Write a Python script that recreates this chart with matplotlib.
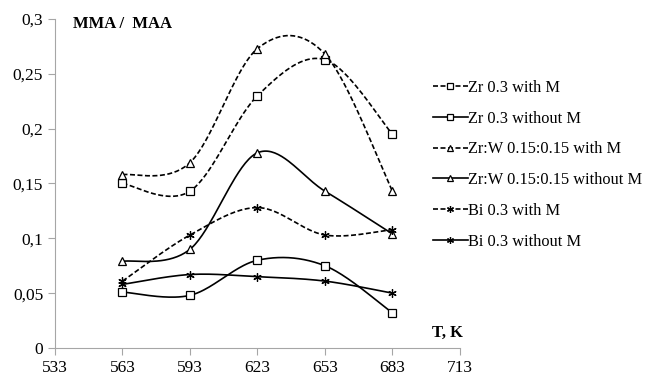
import numpy as np
import matplotlib.pyplot as plt

# temperatures, K
temps = [563, 593, 623, 653, 683]

zr_with = [0.150, 0.143, 0.230, 0.263, 0.195]
zr_without = [0.051, 0.048, 0.080, 0.075, 0.032]
zrw_with = [0.158, 0.169, 0.273, 0.268, 0.143]
zrw_without = [0.079, 0.090, 0.178, 0.143, 0.104]
bi_with = [0.061, 0.103, 0.128, 0.103, 0.108]
bi_without = [0.058, 0.067, 0.065, 0.061, 0.050]

labels = ["Zr 0.3 with M", "Zr 0.3 without M", "Zr:W 0.15:0.15 with M",
          "Zr:W 0.15:0.15 without M", "Bi 0.3 with M", "Bi 0.3 without M"]
series = [zr_with, zr_without, zrw_with, zrw_without, bi_with, bi_without]
markers = ["s", "s", "^", "^", (6, 2, 0), (6, 2, 0)]
styles = ["--", "-", "--", "-", "--", "-"]

x_ticks = [533, 563, 593, 623, 653, 683, 713]
y_ticks = [0, 0.05, 0.1, 0.15, 0.2, 0.25, 0.3]


def smooth(x, y, n=40):
    # excel-like smoothed line (bezier through the points)
    x = np.array(x, float)
    y = np.array(y, float)
    px = np.concatenate([[x[0]], x, [x[-1]]])
    py = np.concatenate([[y[0]], y, [y[-1]]])
    xs, ys = [], []
    t = np.linspace(0, 1, n)
    for i in range(1, len(px) - 2):
        p0 = np.array([px[i], py[i]])
        p3 = np.array([px[i + 1], py[i + 1]])
        p1 = p0 + (np.array([px[i + 1], py[i + 1]]) - np.array([px[i - 1], py[i - 1]])) / 6
        p2 = p3 - (np.array([px[i + 2], py[i + 2]]) - np.array([px[i], py[i]])) / 6
        b = ((1 - t) ** 3)[:, None] * p0 + (3 * (1 - t) ** 2 * t)[:, None] * p1 \
            + (3 * (1 - t) * t ** 2)[:, None] * p2 + (t ** 3)[:, None] * p3
        xs.extend(b[:, 0])
        ys.extend(b[:, 1])
    return xs, ys


plt.rcParams['font.family'] = ['Liberation Serif', 'DejaVu Serif']

fig = plt.figure(figsize=(6.45, 3.76), dpi=100)
ax = fig.add_axes([0.0853, 0.0745, 0.6277, 0.875])

for vals, m, ls, lab in zip(series, markers, styles, labels):
    sx, sy = smooth(temps, vals)
    ax.plot(sx, sy, ls, color="black", lw=1.2, dashes=(3, 1.5) if ls == "--" else (None, None))
    ax.plot(temps, vals, linestyle="none", marker=m, color="black",
            markerfacecolor="white", markersize=6, mew=0.9)
    ax.plot([], [], ls, color="black", lw=1.2, marker=m, markerfacecolor="white",
            markersize=5, mew=0.9, label=lab,
            dashes=(3, 1.5) if ls == "--" else (None, None))

ax.set_xlim(533, 713)
ax.set_ylim(0, 0.3)
ax.set_xticks(x_ticks)
ax.set_yticks(y_ticks)
ax.set_yticklabels([str(v).replace(".", ",") if v else "0" for v in y_ticks])
for s in ["top", "right"]:
    ax.spines[s].set_visible(False)
for s in ["left", "bottom"]:
    ax.spines[s].set_color("#a6a6a6")
ax.tick_params(colors="#a6a6a6", labelcolor="black", labelsize=12.5, length=5)

ax.text(0.045, 0.985, "MMA /  MAA", transform=ax.transAxes, fontsize=12,
        fontweight="bold", va="center")
ax.text(1.007, 0.046, "T, K", transform=ax.transAxes, fontsize=12,
        fontweight="bold", ha="right", va="center")

ax.legend(loc="upper left", bbox_to_anchor=(0.918, 0.835), frameon=False,
          fontsize=11.8, numpoints=1, handlelength=2.1, handletextpad=0.05,
          labelspacing=0.9, borderaxespad=0)

fig.savefig("out.png", dpi=100)
